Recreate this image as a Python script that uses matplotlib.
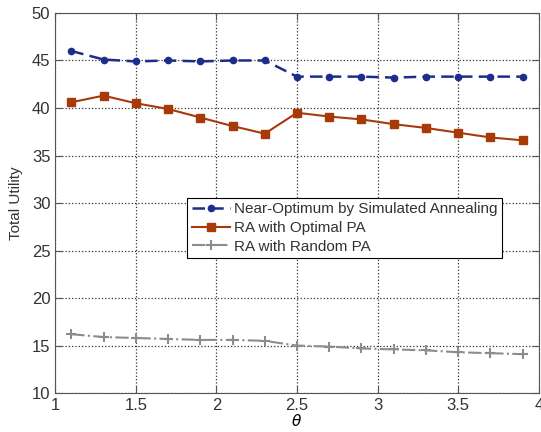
import numpy as np
import matplotlib
matplotlib.use('Agg')
import matplotlib.pyplot as plt

plt.rcParams['font.family'] = ['Liberation Sans', 'DejaVu Sans']

# data
theta = [1.1, 1.3, 1.5, 1.7, 1.9, 2.1, 2.3, 2.5, 2.7, 2.9, 3.1, 3.3, 3.5, 3.7, 3.9]
near_opt = [46.0, 45.1, 44.9, 45.0, 44.9, 45.0, 45.0, 43.3, 43.3, 43.3, 43.2, 43.3, 43.3, 43.3, 43.3]
ra_opt = [40.6, 41.3, 40.5, 39.9, 39.0, 38.1, 37.3, 39.5, 39.1, 38.8, 38.3, 37.9, 37.4, 36.9, 36.6]
ra_rand = [16.2, 15.9, 15.8, 15.7, 15.6, 15.6, 15.5, 15.0, 14.9, 14.7, 14.6, 14.5, 14.3, 14.2, 14.1]
labels = ['Near-Optimum by Simulated Annealing', 'RA with Optimal PA', 'RA with Random PA']

fig = plt.figure(figsize=(5.41, 4.32), dpi=100)
ax = fig.add_axes([0.102, 0.090, 0.894, 0.880])

ax.plot(theta, near_opt, '--', color='#1c2e8a', lw=1.8, marker='o', ms=4.5, dashes=(5, 2.5), label=labels[0])
ax.plot(theta, ra_opt, '-', color='#a83a0a', lw=1.5, marker='s', ms=6, label=labels[1])
ax.plot(theta, ra_rand, '-.', color='#8c8c8c', lw=1.5, marker='+', ms=7, mew=1.5, label=labels[2])

ax.set_xlim(1, 4)
ax.set_ylim(10, 50)
ax.set_xticks(np.arange(1, 4.01, 0.5))
ax.set_xticklabels(['1', '1.5', '2', '2.5', '3', '3.5', '4'])
ax.set_yticks(np.arange(10, 51, 5))
ax.tick_params(direction='in', top=True, right=True, labelsize=12, length=5,
               color='#555555', labelcolor='#333333')
for s in ax.spines.values():
    s.set_color('#555555')
ax.grid(True, linestyle=':', color='#333333', lw=0.9)
ax.set_xlabel(r'$\theta$', fontsize=11, labelpad=0)
ax.set_ylabel('Total Utility', fontsize=11, labelpad=6, color='#333333')

leg = ax.legend(loc='lower left', bbox_to_anchor=(0.273, 0.355), fontsize=11, fancybox=False,
                framealpha=1, edgecolor='black', handlelength=2.5, borderpad=0.3,
                labelspacing=0.3, handletextpad=0.25, borderaxespad=0)
leg.get_frame().set_linewidth(0.8)
for t in leg.get_texts():
    t.set_color('#333333')

fig.savefig('out.png', dpi=100)
